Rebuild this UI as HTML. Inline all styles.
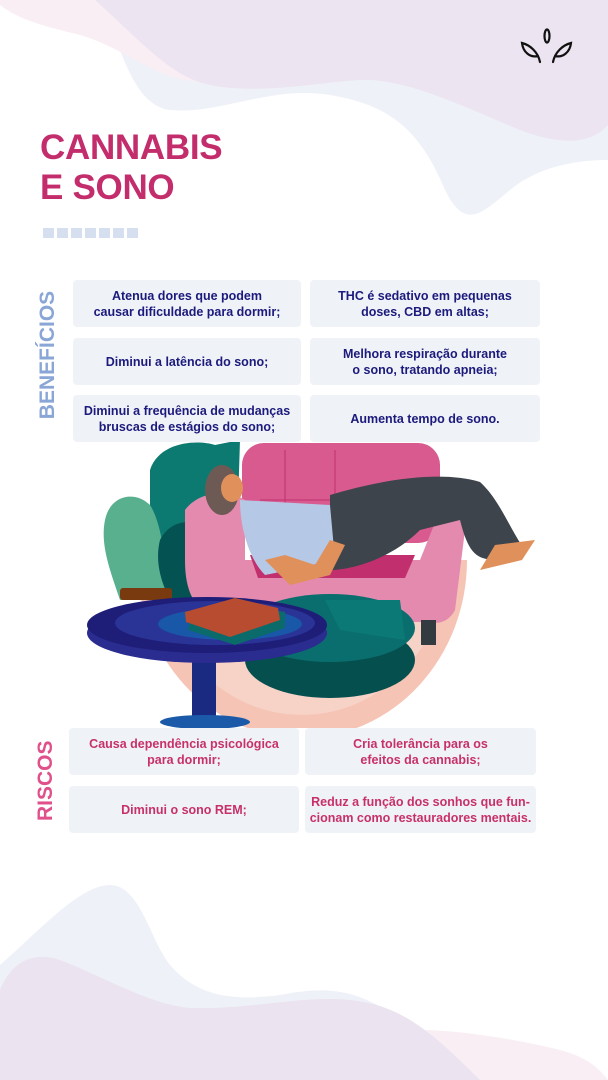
<!DOCTYPE html>
<html><head><meta charset="utf-8">
<style>
*{margin:0;padding:0;box-sizing:border-box}
body{width:608px;height:1080px;position:relative;overflow:hidden;background:#fff;font-family:"Liberation Sans",sans-serif}
.abs{position:absolute}
.box{position:absolute;background:#eff2f7;border-radius:4px;display:flex;align-items:center;justify-content:center;text-align:center;font-weight:bold;font-size:12.5px;line-height:16px;letter-spacing:0}
.b{color:#1c1a7c}
.r{color:#c8306a}
.title{left:40px;top:128px;font-size:35px;font-weight:bold;color:#c32d6b;line-height:40px;letter-spacing:-0.3px}
.sq{position:absolute;top:228px;width:11px;height:10px;background:#d5dff0}
.vert{position:absolute;transform:rotate(-90deg);transform-origin:center;font-weight:bold;white-space:nowrap}
</style></head><body>
<svg class="abs" style="left:0;top:0" width="608" height="1080">
  <path d="M0,0 L608,0 L608,160 C580,160 540,165 510,190 C480,215 465,230 445,190 C420,130 390,105 330,95 C270,85 220,115 170,110 C130,105 120,40 100,0 Z" fill="#eef1f8"/>
  <path d="M0,0 L608,0 L608,110 C595,135 560,135 520,120 C460,100 400,70 355,72 C320,72 260,88 200,82 C150,78 130,50 80,35 C40,25 20,20 0,5 Z" fill="#f8eef4"/>
  <path d="M95,0 L608,0 L608,125 C590,145 560,145 520,130 C460,105 405,78 360,80 C320,82 260,95 210,85 C170,77 140,40 95,0 Z" fill="#ece4f0"/>
  <path d="M0,965 C40,930 80,885 110,885 C140,885 150,940 170,965 C200,1000 240,1000 280,995 C330,985 360,990 400,1020 C430,1045 460,1065 475,1080 L0,1080 Z" fill="#eef1f8"/>
  <path d="M608,1080 L400,1080 C380,1060 360,1030 420,1030 C460,1030 520,1040 560,1050 C590,1058 600,1070 608,1080 Z" fill="#f8eef4"/>
  <path d="M0,1080 L0,990 C10,965 30,950 60,960 C100,975 150,1005 190,1008 C250,1010 300,995 350,1000 C400,1005 430,1030 480,1080 Z" fill="#ebe3ef"/>
  <g fill="none" stroke="#111" stroke-width="2.2" stroke-linecap="round">
    <ellipse cx="547" cy="36" rx="2.5" ry="6.5"/>
    <path d="M540,62 C538,52 530,45 522,43 C523,52 530,58 538,56"/>
    <path d="M553,62 C555,52 563,45 571,43 C570,52 563,58 555,56"/>
  </g>
  <defs><clipPath id="cc"><rect x="0" y="560" width="608" height="168"/></clipPath></defs>
  <ellipse cx="302" cy="560" rx="165" ry="178" fill="#f5c4b5" clip-path="url(#cc)"/>
  <ellipse cx="302" cy="560" rx="145" ry="155" fill="#f9dcd3" clip-path="url(#cc)" opacity="0.6"/>
  <path d="M150,470 C160,440 200,440 215,445 L240,440 L235,600 L150,600 Z" fill="#0c7a70"/>
  <path d="M105,520 C110,495 135,490 150,505 C160,520 168,560 165,600 L120,600 C110,570 100,545 105,520Z" fill="#59b08e"/>
  <path d="M160,540 C170,520 195,515 210,535 C225,555 235,575 235,600 L170,600 C160,580 155,560 160,540Z" fill="#045252"/>
  <rect x="120" y="588" width="52" height="12" rx="3" fill="#7a3a10"/>
  <rect x="242" y="443" width="198" height="100" rx="22" fill="#d85a8e"/>
  <path d="M285,450 L285,540 M335,450 L335,540 M260,500 L420,500" stroke="#c2306e" stroke-width="1"/>
  <path d="M185,510 C200,490 230,490 245,500 L245,560 L420,560 L440,510 C455,500 470,510 465,530 L455,610 C450,620 440,625 430,622 L240,622 C200,620 185,600 185,560 Z" fill="#e48aae"/>
  <path d="M250,555 L415,555 L405,578 L258,578 Z" fill="#c22f6e"/>
  <rect x="421" y="620" width="15" height="25" fill="#333a40"/>
  <ellipse cx="330" cy="660" rx="85" ry="38" fill="#054f4f"/>
  <ellipse cx="330" cy="628" rx="85" ry="34" fill="#0a6e6e"/>
  <path d="M325,600 L400,600 L405,640 L340,630 Z" fill="#0b7a76"/>
  <path d="M330,495 C380,480 440,470 480,482 C500,500 510,530 525,550 L505,560 C480,560 470,560 460,520 L420,530 C390,560 350,570 330,570 Z" fill="#3d444c"/>
  <path d="M495,545 L535,540 L522,560 L480,570 Z" fill="#e0905a"/>
  <path d="M240,500 L330,505 L335,560 L290,570 L265,575 C250,560 240,530 240,500Z" fill="#b5c8e5"/>
  <path d="M265,560 L290,585 L330,575 L345,545 L330,540 L315,565 L285,555 Z" fill="#e0905a"/>
  <ellipse cx="222" cy="490" rx="17" ry="25" fill="#6e5a55"/>
  <ellipse cx="232" cy="488" rx="11" ry="14" fill="#e0905a"/>
  <rect x="192" y="640" width="24" height="85" fill="#1a2a80"/>
  <ellipse cx="205" cy="722" rx="45" ry="7" fill="#1a5aa8"/>
  <ellipse cx="207" cy="633" rx="120" ry="30" fill="#2a2c90"/>
  <ellipse cx="207" cy="625" rx="120" ry="28" fill="#1e1d78"/>
  <ellipse cx="215" cy="623" rx="100" ry="22" fill="#2a3396"/>
  <ellipse cx="230" cy="624" rx="72" ry="16" fill="#1957a8"/>
  <path d="M190,620 L235,603 L285,612 L285,628 L235,645 L188,630 Z" fill="#0b6a6a"/>
  <path d="M185,612 L235,598 L278,608 L280,620 L230,637 L186,622 Z" fill="#b84c30"/>
</svg>

<div class="abs title">CANNABIS<br>E SONO</div>
<div class="sq" style="left:43px"></div><div class="sq" style="left:57px"></div><div class="sq" style="left:71px"></div><div class="sq" style="left:85px"></div><div class="sq" style="left:99px"></div><div class="sq" style="left:113px"></div><div class="sq" style="left:127px"></div>

<div class="vert" style="left:-17px;top:343px;width:130px;height:24px;font-size:21px;color:#8aa6d6;text-align:center;line-height:24px">BENEFÍCIOS</div>
<div class="vert" style="left:6px;top:769px;width:80px;height:24px;font-size:21px;color:#e0508a;text-align:center;line-height:24px">RISCOS</div>

<div class="box b" style="left:73px;top:280px;width:228px;height:47px">Atenua dores que podem<br>causar dificuldade para dormir;</div>
<div class="box b" style="left:310px;top:280px;width:230px;height:47px">THC é sedativo em pequenas<br>doses, CBD em altas;</div>
<div class="box b" style="left:73px;top:338px;width:228px;height:47px">Diminui a latência do sono;</div>
<div class="box b" style="left:310px;top:338px;width:230px;height:47px">Melhora respiração durante<br>o sono, tratando apneia;</div>
<div class="box b" style="left:73px;top:395px;width:228px;height:47px">Diminui a frequência de mudanças<br>bruscas de estágios do sono;</div>
<div class="box b" style="left:310px;top:395px;width:230px;height:47px">Aumenta tempo de sono.</div>

<div class="box r" style="left:69px;top:728px;width:230px;height:47px">Causa dependência psicológica<br>para dormir;</div>
<div class="box r" style="left:305px;top:728px;width:231px;height:47px">Cria tolerância para os<br>efeitos da cannabis;</div>
<div class="box r" style="left:69px;top:786px;width:230px;height:47px">Diminui o sono REM;</div>
<div class="box r" style="left:305px;top:786px;width:231px;height:47px">Reduz a função dos sonhos que fun-<br>cionam como restauradores mentais.</div>
</body></html>
